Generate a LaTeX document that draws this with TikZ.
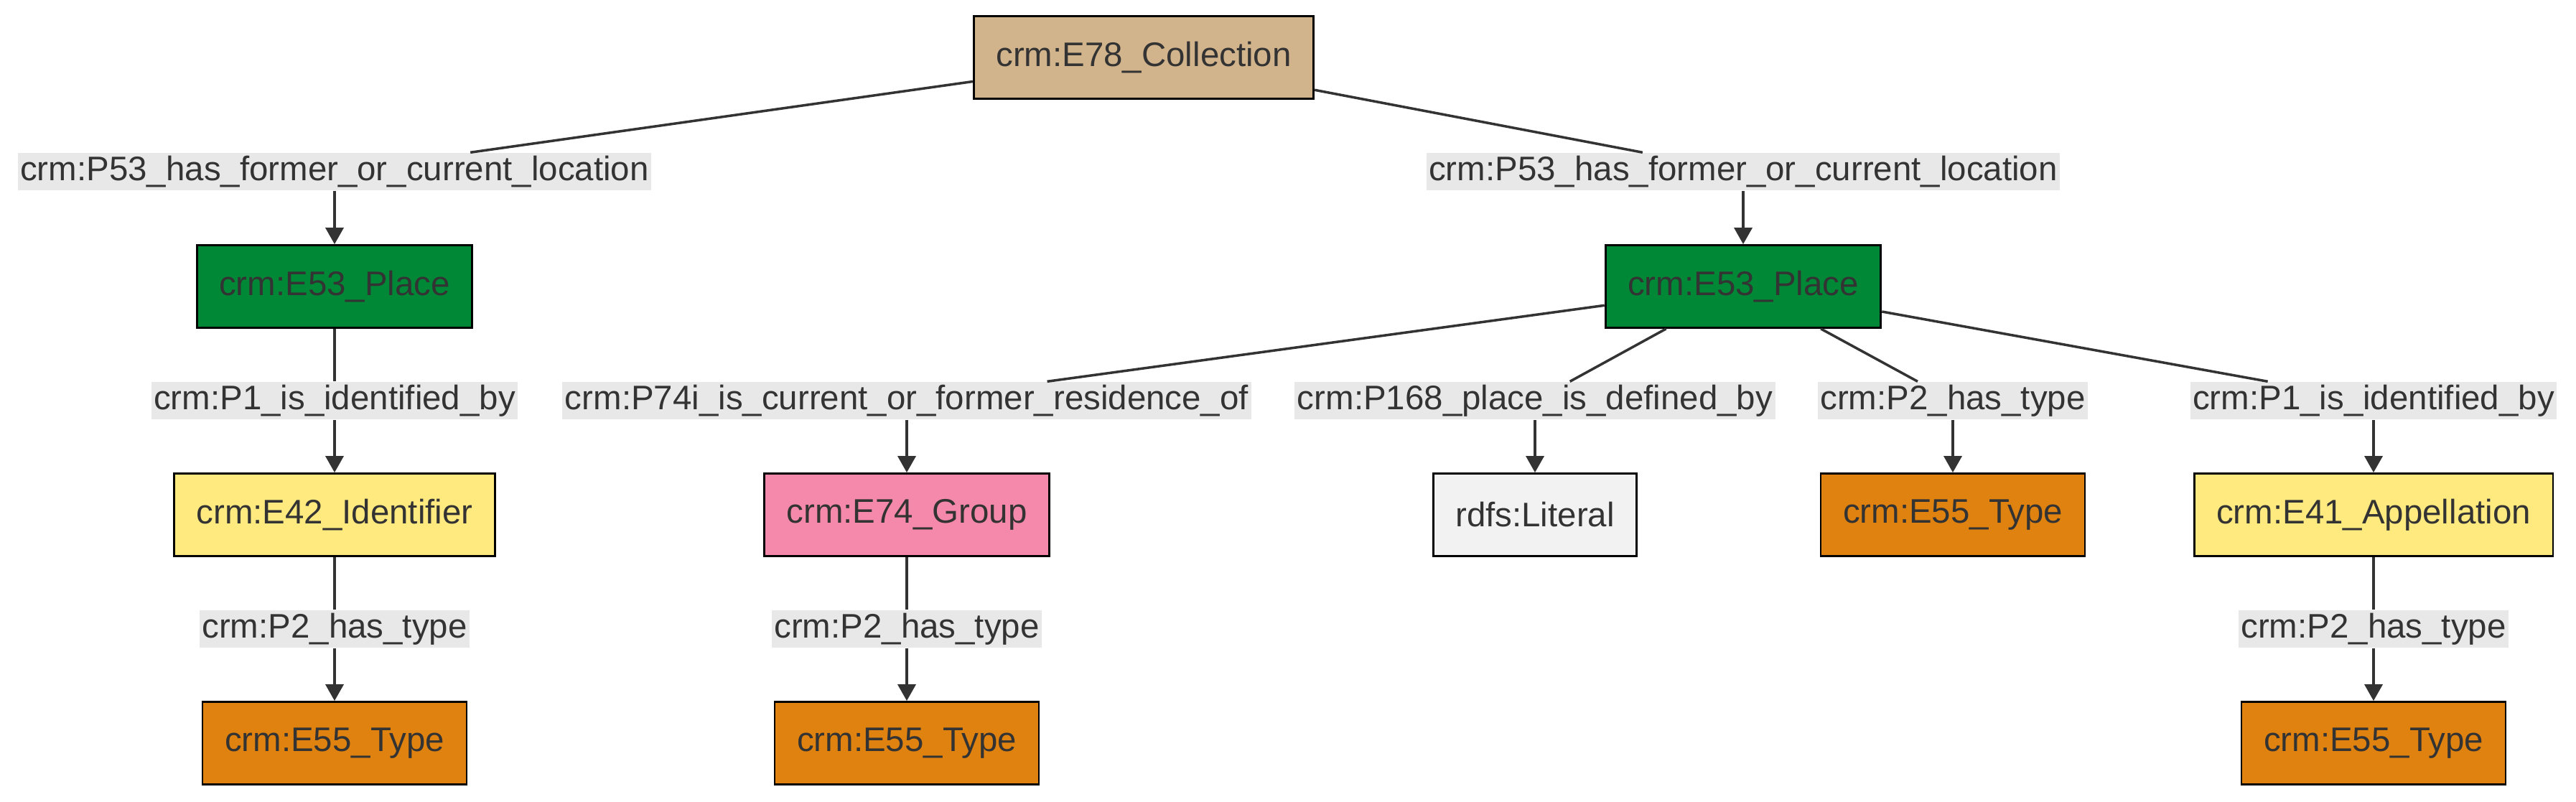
\documentclass[tikz,border=0pt]{standalone}
\usepackage{fontspec}
\setmainfont{Liberation Sans}
\usepackage{xcolor}
\usepackage{tikz}
\usetikzlibrary{arrows.meta, positioning, backgrounds}

\definecolor{inkgrey}{HTML}{333333}
\definecolor{collectiontan}{HTML}{D2B48C}
\definecolor{placegreen}{HTML}{008837}
\definecolor{identyellow}{HTML}{FFEA80}
\definecolor{grouppink}{HTML}{F589AB}
\definecolor{typeorange}{HTML}{E0820F}
\definecolor{literalgrey}{HTML}{F2F2F2}
\definecolor{labelgrey}{HTML}{E8E8E8}

\tikzset{
  classbox/.style={
    draw=black, line width=0.8pt, text=inkgrey,
    font=\fontsize{13.5}{16}\selectfont,
    minimum height=1.15cm, inner xsep=0.31cm
  },
  proplabel/.style={
    fill=labelgrey, text=inkgrey,
    font=\fontsize{13.5}{16}\selectfont,
    minimum height=0.52cm, inner xsep=0.035cm, inner ysep=0pt
  },
  propline/.style={
    line width=1pt, draw=inkgrey
  },
  proparrow/.style={
    propline, -{Triangle[length=0.23cm, width=0.25cm]}
  },
}

\begin{document}
\begin{tikzpicture}
  \useasboundingbox[fill=white] (0,0) rectangle (35.88,-11.16);

  % ---- top ----
  \node[classbox, fill=collectiontan] (coll) at (15.93,-0.80) {crm:E78\_Collection};

  \node[proplabel] (locL) at (4.66,-2.39) {crm:P53\_has\_former\_or\_current\_location};
  \node[proplabel] (locR) at (24.28,-2.39) {crm:P53\_has\_former\_or\_current\_location};

  \node[classbox, fill=placegreen] (placeL) at (4.66,-3.99) {crm:E53\_Place};
  \node[classbox, fill=placegreen] (placeR) at (24.28,-3.99) {crm:E53\_Place};

  % ---- second row ----
  \node[proplabel] (identL) at (4.66,-5.58) {crm:P1\_is\_identified\_by};
  \node[proplabel] (resid) at (12.63,-5.58) {crm:P74i\_is\_current\_or\_former\_residence\_of};
  \node[proplabel] (defby) at (21.38,-5.58) {crm:P168\_place\_is\_defined\_by};
  \node[proplabel] (typeR) at (27.20,-5.58) {crm:P2\_has\_type};
  \node[proplabel] (identR) at (33.06,-5.58) {crm:P1\_is\_identified\_by};

  \node[classbox, fill=identyellow] (ident) at (4.66,-7.17) {crm:E42\_Identifier};
  \node[classbox, fill=grouppink] (group) at (12.63,-7.17) {crm:E74\_Group};
  \node[classbox, fill=literalgrey] (literal) at (21.38,-7.17) {rdfs:Literal};
  \node[classbox, fill=typeorange] (typeP) at (27.20,-7.17) {crm:E55\_Type};
  \node[classbox, fill=identyellow] (appel) at (33.06,-7.17) {crm:E41\_Appellation};

  % ---- third row ----
  \node[proplabel] (typeI) at (4.66,-8.76) {crm:P2\_has\_type};
  \node[proplabel] (typeG) at (12.63,-8.76) {crm:P2\_has\_type};
  \node[proplabel] (typeA) at (33.06,-8.76) {crm:P2\_has\_type};

  \node[classbox, fill=typeorange] (typeIv) at (4.66,-10.35) {crm:E55\_Type};
  \node[classbox, fill=typeorange] (typeGv) at (12.63,-10.35) {crm:E55\_Type};
  \node[classbox, fill=typeorange] (typeAv) at (33.06,-10.35) {crm:E55\_Type};

  % ---- links ----
  \draw[propline] (coll) -- (locL);
  \draw[proparrow] (locL) -- (placeL);
  \draw[propline] (coll) -- (locR);
  \draw[proparrow] (locR) -- (placeR);

  \draw[propline] (placeL) -- (identL);
  \draw[proparrow] (identL) -- (ident);
  \draw[propline] (placeR) -- (resid);
  \draw[proparrow] (resid) -- (group);
  \draw[propline] (placeR) -- (defby);
  \draw[proparrow] (defby) -- (literal);
  \draw[propline] (placeR) -- (typeR);
  \draw[proparrow] (typeR) -- (typeP);
  \draw[propline] (placeR) -- (identR);
  \draw[proparrow] (identR) -- (appel);

  \draw[propline] (ident) -- (typeI);
  \draw[proparrow] (typeI) -- (typeIv);
  \draw[propline] (group) -- (typeG);
  \draw[proparrow] (typeG) -- (typeGv);
  \draw[propline] (appel) -- (typeA);
  \draw[proparrow] (typeA) -- (typeAv);
\end{tikzpicture}
\end{document}
